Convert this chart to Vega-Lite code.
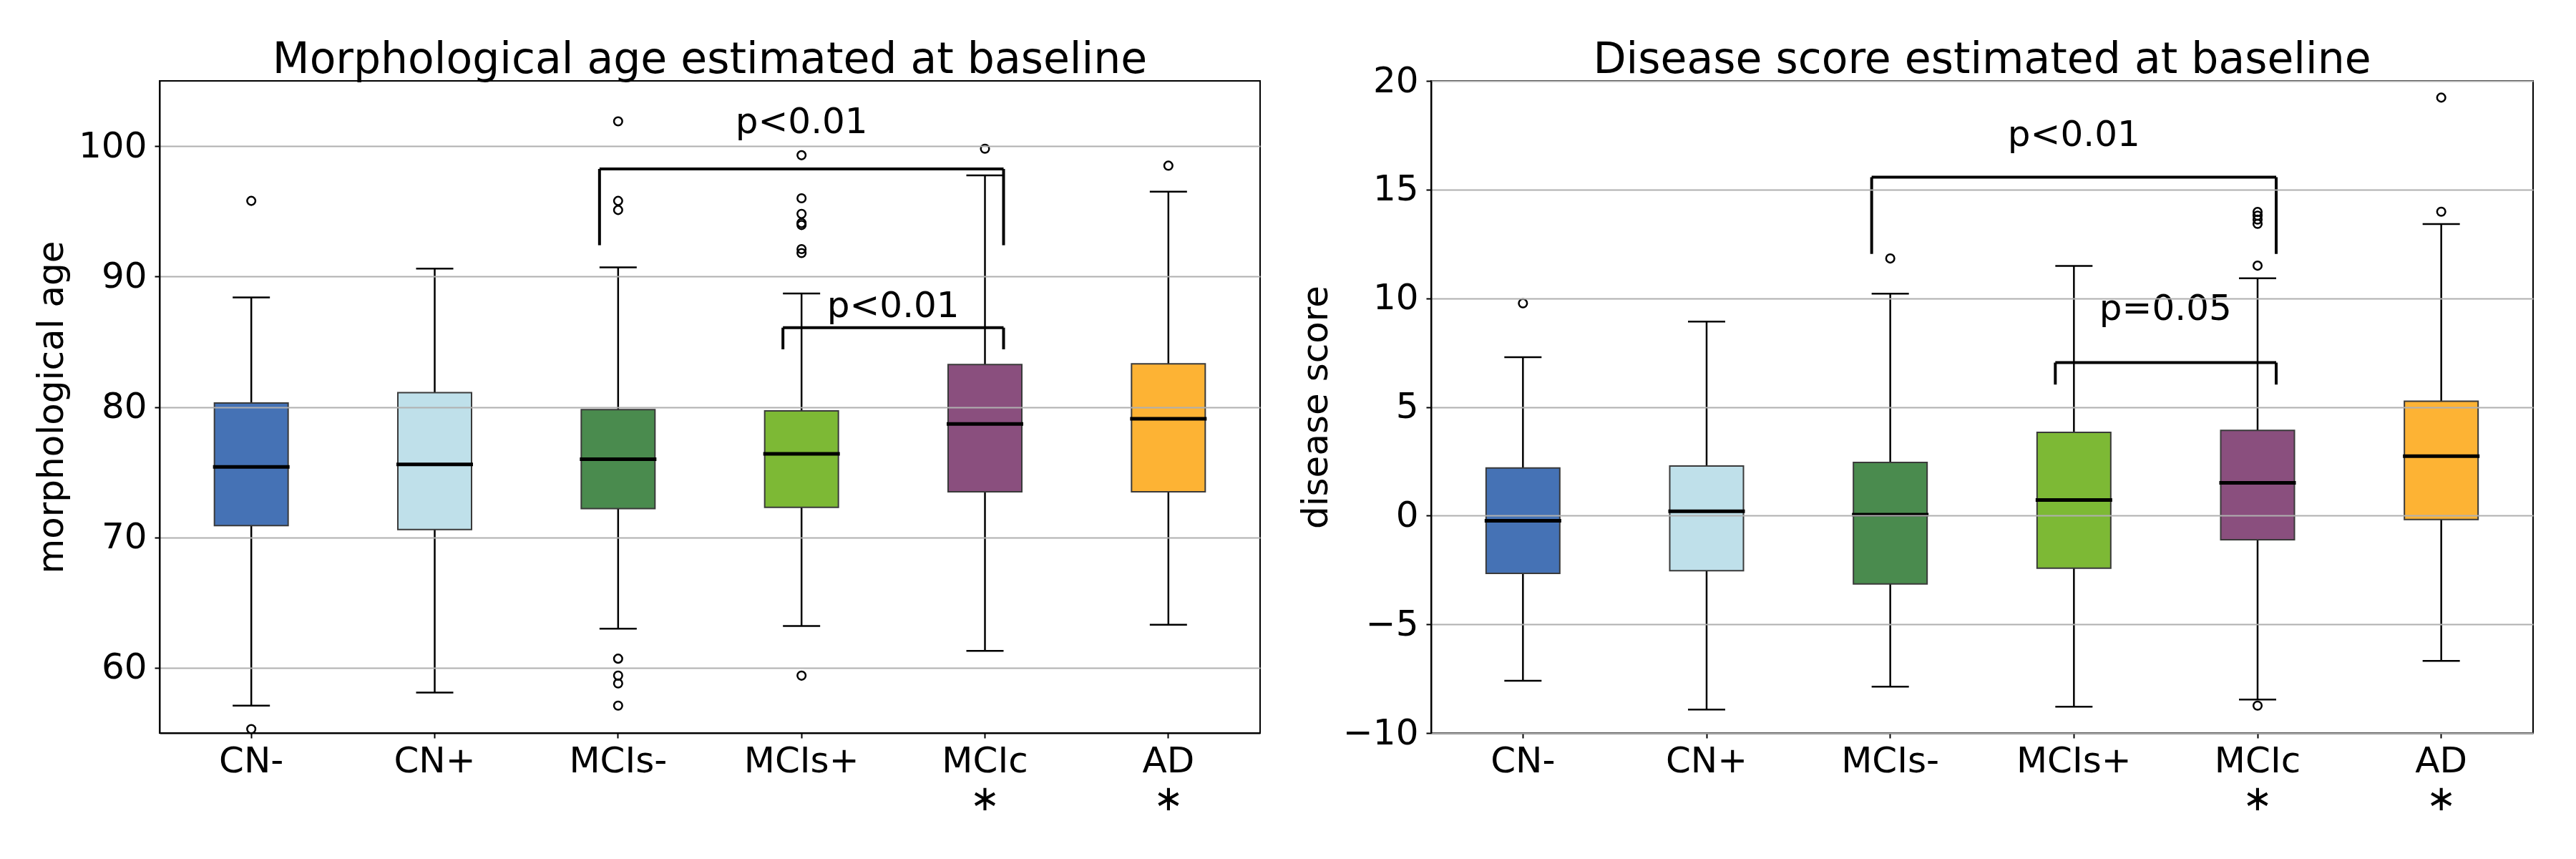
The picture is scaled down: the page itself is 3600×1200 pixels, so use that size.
{
  "$schema": "https://vega.github.io/schema/vega-lite/v6.json",
  "padding": {"left": 46, "top": 53, "right": 0, "bottom": 0},
  "spacing": 239,
  "bounds": "flush",
  "datasets": {
    "boxesL": [
      {"group": "CN-", "lower": 57.1, "q1": 70.9, "median": 75.4, "q3": 80.3, "upper": 88.4},
      {"group": "CN+", "lower": 58.1, "q1": 70.6, "median": 75.6, "q3": 81.1, "upper": 90.6},
      {"group": "MCIs-", "lower": 63.0, "q1": 72.2, "median": 76.0, "q3": 79.8, "upper": 90.7},
      {"group": "MCIs+", "lower": 63.2, "q1": 72.3, "median": 76.4, "q3": 79.7, "upper": 88.7},
      {"group": "MCIc", "lower": 61.3, "q1": 73.5, "median": 78.7, "q3": 83.25, "upper": 97.75},
      {"group": "AD", "lower": 63.3, "q1": 73.5, "median": 79.1, "q3": 83.3, "upper": 96.5}
    ],
    "outL": [
      {"group": "CN-", "value": 95.8}, {"group": "CN-", "value": 55.3},
      {"group": "MCIs-", "value": 101.9}, {"group": "MCIs-", "value": 95.8}, {"group": "MCIs-", "value": 95.1},
      {"group": "MCIs-", "value": 60.7}, {"group": "MCIs-", "value": 59.4}, {"group": "MCIs-", "value": 58.8}, {"group": "MCIs-", "value": 57.1},
      {"group": "MCIs+", "value": 99.3}, {"group": "MCIs+", "value": 96.0}, {"group": "MCIs+", "value": 94.8}, {"group": "MCIs+", "value": 94.1},
      {"group": "MCIs+", "value": 93.95}, {"group": "MCIs+", "value": 92.1}, {"group": "MCIs+", "value": 91.8}, {"group": "MCIs+", "value": 59.4},
      {"group": "MCIc", "value": 99.8},
      {"group": "AD", "value": 98.5}
    ],
    "brL": [
      {"kind": "big", "from": "MCIs-", "to": "MCIc", "mid": "MCIs+", "top": 98.25, "bottom": 92.4, "label": "p<0.01", "textY": 101.0},
      {"kind": "small", "from": "MCIs+", "to": "MCIc", "mid": "MCIs+", "top": 86.08, "bottom": 84.42, "label": "p<0.01", "textY": 86.9}
    ],
    "boxesR": [
      {"group": "CN-", "lower": -7.6, "q1": -2.66, "median": -0.24, "q3": 2.19, "upper": 7.29},
      {"group": "CN+", "lower": -8.92, "q1": -2.53, "median": 0.2, "q3": 2.28, "upper": 8.93},
      {"group": "MCIs-", "lower": -7.87, "q1": -3.14, "median": 0.04, "q3": 2.45, "upper": 10.21},
      {"group": "MCIs+", "lower": -8.79, "q1": -2.42, "median": 0.72, "q3": 3.83, "upper": 11.49},
      {"group": "MCIc", "lower": -8.46, "q1": -1.11, "median": 1.51, "q3": 3.92, "upper": 10.92},
      {"group": "AD", "lower": -6.68, "q1": -0.18, "median": 2.74, "q3": 5.26, "upper": 13.41}
    ],
    "outR": [
      {"group": "CN-", "value": 9.77},
      {"group": "MCIs-", "value": 11.83},
      {"group": "MCIc", "value": 13.97}, {"group": "MCIc", "value": 13.8}, {"group": "MCIc", "value": 13.62}, {"group": "MCIc", "value": 13.42},
      {"group": "MCIc", "value": 11.5}, {"group": "MCIc", "value": -8.74},
      {"group": "AD", "value": 19.23}, {"group": "AD", "value": 13.98}
    ],
    "brR": [
      {"kind": "big", "from": "MCIs-", "to": "MCIc", "mid": "MCIs+", "top": 15.57, "bottom": 12.04, "label": "p<0.01", "textY": 17.0},
      {"kind": "small", "from": "MCIs+", "to": "MCIc", "mid": "MCIs+", "top": 7.04, "bottom": 6.03, "label": "p=0.05", "textY": 9.0}
    ]
  },
  "hconcat": [
    {
      "width": 1538,
      "height": 911,
      "title": {"text": "Morphological age estimated at baseline", "offset": -2},
      "encoding": {
        "x": {"field": "group", "type": "nominal", "title": null,
          "scale": {"domain": ["CN-", "CN+", "MCIs-", "MCIs+", "MCIc", "AD"], "paddingInner": 0, "paddingOuter": 0},
          "axis": {"labelExpr": "datum.value == 'MCIc' || datum.value == 'AD' ? [datum.value, '∗'] : datum.value"}}
      },
      "layer": [
        {"data": {"name": "boxesL"}, "mark": {"type": "rule", "stroke": "black", "strokeWidth": 2.5},
          "encoding": {"y": {"field": "lower", "type": "quantitative", "title": "morphological age",
            "scale": {"domain": [55, 105], "nice": false, "zero": false},
            "axis": {"values": [60, 70, 80, 90, 100], "zindex": 1}}, "y2": {"field": "q1"}}},
        {"data": {"name": "boxesL"}, "mark": {"type": "rule", "stroke": "black", "strokeWidth": 2.5},
          "encoding": {"y": {"field": "q3", "type": "quantitative"}, "y2": {"field": "upper"}}},
        {"data": {"name": "boxesL"}, "mark": {"type": "tick", "orient": "horizontal", "size": 52, "thickness": 2.5, "color": "black", "opacity": 1},
          "encoding": {"y": {"field": "lower", "type": "quantitative"}}},
        {"data": {"name": "boxesL"}, "mark": {"type": "tick", "orient": "horizontal", "size": 52, "thickness": 2.5, "color": "black", "opacity": 1},
          "encoding": {"y": {"field": "upper", "type": "quantitative"}}},
        {"data": {"name": "boxesL"}, "mark": {"type": "bar", "size": 103, "stroke": "#3a3a3a", "strokeWidth": 2, "opacity": 1},
          "encoding": {"y": {"field": "q1", "type": "quantitative"}, "y2": {"field": "q3"},
            "color": {"field": "group", "type": "nominal", "legend": null,
              "scale": {"domain": ["CN-", "CN+", "MCIs-", "MCIs+", "MCIc", "AD"], "range": ["#4572b5", "#bfe0ea", "#4a8b4e", "#7db935", "#8a4f7e", "#fdb334"]}}}},
        {"data": {"name": "boxesL"}, "mark": {"type": "tick", "orient": "horizontal", "size": 107, "thickness": 5, "color": "black", "opacity": 1},
          "encoding": {"y": {"field": "median", "type": "quantitative"}}},
        {"data": {"name": "outL"}, "mark": {"type": "point", "shape": "circle", "filled": false, "stroke": "black", "strokeWidth": 2.5, "size": 135, "opacity": 1},
          "encoding": {"y": {"field": "value", "type": "quantitative"}}},
        {"data": {"name": "brL"}, "mark": {"type": "rule", "stroke": "black", "strokeWidth": 4, "xOffset": -26, "x2Offset": 26},
          "encoding": {"x": {"field": "from", "type": "nominal"}, "x2": {"field": "to"}, "y": {"field": "top", "type": "quantitative"}}},
        {"data": {"name": "brL"}, "mark": {"type": "rule", "stroke": "black", "strokeWidth": 4, "xOffset": -26},
          "encoding": {"x": {"field": "from", "type": "nominal"}, "y": {"field": "bottom", "type": "quantitative"}, "y2": {"field": "top"}}},
        {"data": {"name": "brL"}, "mark": {"type": "rule", "stroke": "black", "strokeWidth": 4, "xOffset": 26},
          "encoding": {"x": {"field": "to", "type": "nominal"}, "y": {"field": "bottom", "type": "quantitative"}, "y2": {"field": "top"}}},
        {"data": {"name": "brL"}, "transform": [{"filter": "datum.kind == 'big'"}],
          "mark": {"type": "text", "fontSize": 50, "font": "DejaVu Sans", "baseline": "alphabetic", "align": "center", "color": "black"},
          "encoding": {"x": {"field": "mid", "type": "nominal"}, "y": {"field": "textY", "type": "quantitative"}, "text": {"field": "label"}}},
        {"data": {"name": "brL"}, "transform": [{"filter": "datum.kind == 'small'"}],
          "mark": {"type": "text", "fontSize": 50, "font": "DejaVu Sans", "baseline": "alphabetic", "align": "center", "color": "black", "xOffset": 128},
          "encoding": {"x": {"field": "mid", "type": "nominal"}, "y": {"field": "textY", "type": "quantitative"}, "text": {"field": "label"}}}
      ]
    },
    {
      "width": 1540,
      "height": 911,
      "title": {"text": "Disease score estimated at baseline", "offset": -27},
      "encoding": {
        "x": {"field": "group", "type": "nominal", "title": null,
          "scale": {"domain": ["CN-", "CN+", "MCIs-", "MCIs+", "MCIc", "AD"], "paddingInner": 0, "paddingOuter": 0},
          "axis": {"labelExpr": "datum.value == 'MCIc' || datum.value == 'AD' ? [datum.value, '∗'] : datum.value"}}
      },
      "layer": [
        {"data": {"name": "boxesR"}, "mark": {"type": "rule", "stroke": "black", "strokeWidth": 2.5},
          "encoding": {"y": {"field": "lower", "type": "quantitative", "title": "disease score",
            "scale": {"domain": [-10, 20], "nice": false, "zero": false},
            "axis": {"values": [-10, -5, 0, 5, 10, 15, 20], "zindex": 1}}, "y2": {"field": "q1"}}},
        {"data": {"name": "boxesR"}, "mark": {"type": "rule", "stroke": "black", "strokeWidth": 2.5},
          "encoding": {"y": {"field": "q3", "type": "quantitative"}, "y2": {"field": "upper"}}},
        {"data": {"name": "boxesR"}, "mark": {"type": "tick", "orient": "horizontal", "size": 52, "thickness": 2.5, "color": "black", "opacity": 1},
          "encoding": {"y": {"field": "lower", "type": "quantitative"}}},
        {"data": {"name": "boxesR"}, "mark": {"type": "tick", "orient": "horizontal", "size": 52, "thickness": 2.5, "color": "black", "opacity": 1},
          "encoding": {"y": {"field": "upper", "type": "quantitative"}}},
        {"data": {"name": "boxesR"}, "mark": {"type": "bar", "size": 103, "stroke": "#3a3a3a", "strokeWidth": 2, "opacity": 1},
          "encoding": {"y": {"field": "q1", "type": "quantitative"}, "y2": {"field": "q3"},
            "color": {"field": "group", "type": "nominal", "legend": null,
              "scale": {"domain": ["CN-", "CN+", "MCIs-", "MCIs+", "MCIc", "AD"], "range": ["#4572b5", "#bfe0ea", "#4a8b4e", "#7db935", "#8a4f7e", "#fdb334"]}}}},
        {"data": {"name": "boxesR"}, "mark": {"type": "tick", "orient": "horizontal", "size": 107, "thickness": 5, "color": "black", "opacity": 1},
          "encoding": {"y": {"field": "median", "type": "quantitative"}}},
        {"data": {"name": "outR"}, "mark": {"type": "point", "shape": "circle", "filled": false, "stroke": "black", "strokeWidth": 2.5, "size": 135, "opacity": 1},
          "encoding": {"y": {"field": "value", "type": "quantitative"}}},
        {"data": {"name": "brR"}, "mark": {"type": "rule", "stroke": "black", "strokeWidth": 4, "xOffset": -26, "x2Offset": 26},
          "encoding": {"x": {"field": "from", "type": "nominal"}, "x2": {"field": "to"}, "y": {"field": "top", "type": "quantitative"}}},
        {"data": {"name": "brR"}, "mark": {"type": "rule", "stroke": "black", "strokeWidth": 4, "xOffset": -26},
          "encoding": {"x": {"field": "from", "type": "nominal"}, "y": {"field": "bottom", "type": "quantitative"}, "y2": {"field": "top"}}},
        {"data": {"name": "brR"}, "mark": {"type": "rule", "stroke": "black", "strokeWidth": 4, "xOffset": 26},
          "encoding": {"x": {"field": "to", "type": "nominal"}, "y": {"field": "bottom", "type": "quantitative"}, "y2": {"field": "top"}}},
        {"data": {"name": "brR"}, "transform": [{"filter": "datum.kind == 'big'"}],
          "mark": {"type": "text", "fontSize": 50, "font": "DejaVu Sans", "baseline": "alphabetic", "align": "center", "color": "black"},
          "encoding": {"x": {"field": "mid", "type": "nominal"}, "y": {"field": "textY", "type": "quantitative"}, "text": {"field": "label"}}},
        {"data": {"name": "brR"}, "transform": [{"filter": "datum.kind == 'small'"}],
          "mark": {"type": "text", "fontSize": 50, "font": "DejaVu Sans", "baseline": "alphabetic", "align": "center", "color": "black", "xOffset": 128},
          "encoding": {"x": {"field": "mid", "type": "nominal"}, "y": {"field": "textY", "type": "quantitative"}, "text": {"field": "label"}}}
      ]
    }
  ],
  "config": {
    "font": "DejaVu Sans",
    "background": "white",
    "view": {"stroke": "black", "strokeWidth": 2},
    "axis": {
      "labelFont": "DejaVu Sans", "labelFontSize": 50, "labelColor": "black",
      "titleFont": "DejaVu Sans", "titleFontSize": 50, "titleFontWeight": "normal", "titleColor": "black",
      "domainColor": "black", "domainWidth": 2, "tickColor": "black", "tickWidth": 2, "tickSize": 7,
      "labelPadding": 11, "gridColor": "#b0b0b0", "gridWidth": 2
    },
    "axisX": {"grid": false, "labelAngle": 0, "labelLineHeight": 53, "labelPadding": 7},
    "axisY": {"grid": true, "titlePadding": 12},
    "title": {"fontSize": 60, "fontWeight": "normal", "font": "DejaVu Sans", "color": "black", "anchor": "middle", "baseline": "alphabetic", "offset": 12}
  }
}
